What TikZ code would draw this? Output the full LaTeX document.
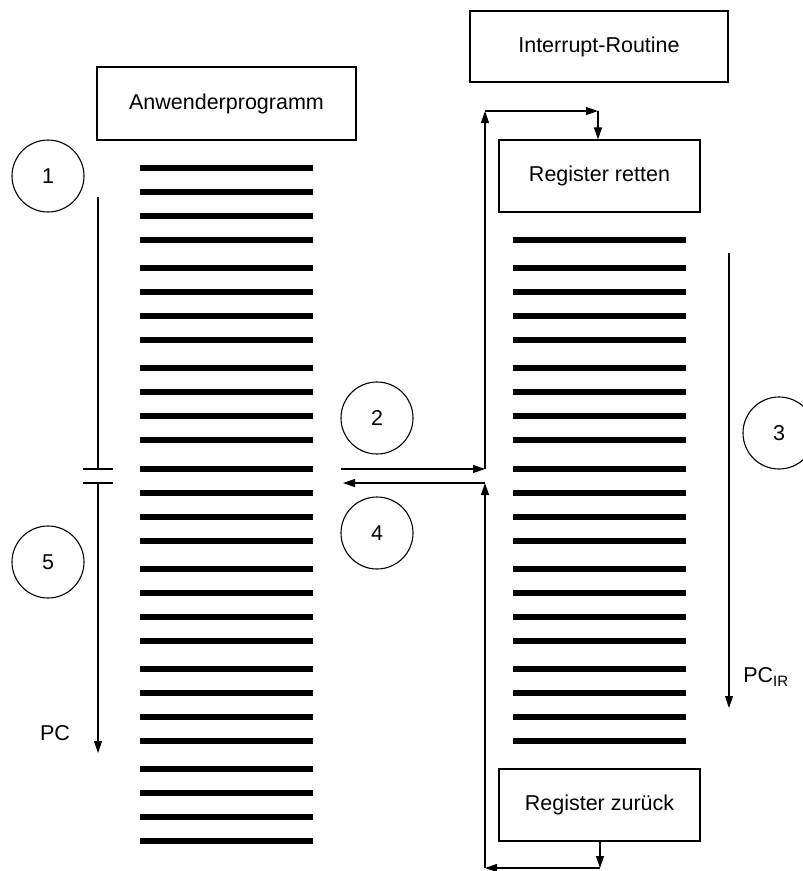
\documentclass[tikz,border=0pt]{standalone}
\usepackage{fontspec}
\setmainfont{Liberation Sans}
\usetikzlibrary{arrows.meta}
\begin{document}
\begin{tikzpicture}[x=1pt,y=-1pt,
  txt/.style={font=\fontsize{21.5}{25}\selectfont},
  box/.style={draw, line width=1.2pt, inner sep=0pt, txt},
  num/.style={draw, circle, line width=1.1pt, minimum size=72pt, inner sep=0pt, txt},
  conn/.style={line width=1.2pt, -{Triangle[length=12pt,width=8pt]}},
  plain/.style={line width=1.2pt},
  bar/.style={line width=6pt}]
\useasboundingbox (0,0) rectangle (803,871);

% boxes
\node[box, minimum width=259pt, minimum height=73pt] (anw) at (226.5,103.5) {Anwenderprogramm};
\node[box, minimum width=258pt, minimum height=71pt] (irr) at (599,46.5) {Interrupt-Routine};
\node[box, minimum width=201pt, minimum height=72pt] (ret) at (599.5,176) {Register retten};
\node[box, minimum width=201pt, minimum height=72pt] (zur) at (599.5,805) {Register zurück};

% program lines (left)
\foreach \g in {0,...,6}
  \foreach \k in {0,...,3}
    \draw[bar] (140,{168+100.17*\g+24*\k}) -- (313,{168+100.17*\g+24*\k});
% program lines (right)
\draw[bar] (513,240) -- (686,240);
\foreach \g in {1,...,5}
  \foreach \k in {0,...,3}
    \draw[bar] (513,{168+100.17*\g+24*\k}) -- (686,{168+100.17*\g+24*\k});

% circles
\node[num] (c1) at (48,176) {1};
\node[num] (c2) at (377,418) {2};
\node[num] (c3) at (779,433) {3};
\node[num] (c4) at (377,533) {4};
\node[num] (c5) at (48,562) {5};

% PC line (left)
\coordinate (pcTop) at (98,197);
\coordinate (pcB1) at (98,469);
\coordinate (pcB2) at (98,483);
\coordinate (pcEnd) at (98,753);
\coordinate (t1l) at (83,469);
\coordinate (t1r) at (113,469);
\coordinate (t2l) at (83,483);
\coordinate (t2r) at (113,483);
\draw[plain] (pcTop) -- (pcB1);
\draw[plain] (t1l) -- (t1r);
\draw[plain] (t2l) -- (t2r);
\draw[conn] (pcB2) -- (pcEnd);
\node[txt] (pc) at (55,733) {PC};

% interrupt jump
\coordinate (a2s) at (341,469);
\coordinate (a2e) at (485,469);
\coordinate (up1) at (485,111);
\coordinate (rt1) at (598,111);
\draw[conn] (a2s) -- (a2e);
\draw[conn] (a2e) -- (up1);
\draw[conn] (up1) -- (rt1);
\draw[conn] (rt1) -- (rt1 |- ret.north);

% return
\coordinate (b1) at (600,868);
\coordinate (b2) at (485,868);
\coordinate (a4s) at (485,483);
\coordinate (a4e) at (343,483);
\draw[conn] (zur.south -| b1) -- (b1);
\draw[conn] (b1) -- (b2);
\draw[conn] (b2) -- (a4s);
\draw[conn] (a4s) -- (a4e);

% PC_IR
\coordinate (pcir1) at (729,253);
\coordinate (pcir2) at (729,708);
\draw[conn] (pcir1) -- (pcir2);
\node[txt] (pcir) at (766,677) {PC\textsubscript{IR}};
\end{tikzpicture}
\end{document}
